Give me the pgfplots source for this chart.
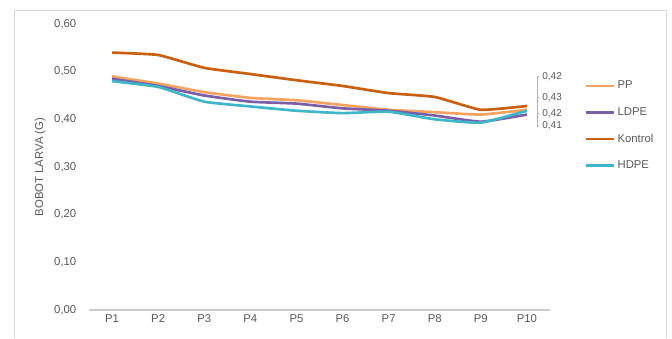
\documentclass[border=0pt]{standalone}
\usepackage{pgfplots}
\pgfplotsset{compat=1.18}
\usepackage{fontspec}
\setmainfont{Liberation Sans}
\definecolor{cPP}{HTML}{F4A460}
\definecolor{cLDPE}{HTML}{7A5FA6}
\definecolor{cKon}{HTML}{C8600F}
\definecolor{cHDPE}{HTML}{3FB6C9}
\definecolor{txt}{HTML}{595959}
\begin{document}
\begin{tikzpicture}[x=0.75pt,y=0.75pt]
\fill[white] (0,0) rectangle (672,338);
\draw[gray!30] (14,0) -- (14,328) -- (666,328) -- (666,0);
\begin{axis}[
  at={(89pt*0.75,28pt*0.75)}, anchor=origin,
  scale only axis, width=345.75pt, height=214.5pt,
  xmin=0.5, xmax=10.5, ymin=0, ymax=0.6,
  xtick={1,...,10},
  xticklabels={P1,P2,P3,P4,P5,P6,P7,P8,P9,P10},
  ytick={0,0.1,0.2,0.3,0.4,0.5,0.6},
  /pgf/number format/use comma,
  /pgf/number format/fixed,
  /pgf/number format/fixed zerofill,
  /pgf/number format/precision=2,
  /pgf/number format/assume math mode=true,
  axis x line*=bottom, axis y line*=left,
  x axis line style={gray!40, line width=0.8pt},
  y axis line style={draw=none},
  major tick length=0pt,
  yticklabel style={xshift=-6pt},
  tick label style={font=\fontsize{8.5}{10}\selectfont, text=txt},
  ylabel={BOBOT LARVA (G)},
  ylabel style={at={(axis description cs:-0.106,0.5)}, anchor=center, font=\fontsize{8.5}{10}\selectfont, text=txt},
  legend style={at={(axis description cs:1.065,0.82)}, anchor=north west, draw=none, fill=none,
     font=\fontsize{8.5}{10}\selectfont, text=txt, row sep=8.5pt, legend cell align=left},
  legend image code/.code={\draw[#1, line width=2pt] (0pt,0pt) -- (21pt,0pt);},
  every axis plot/.append style={line width=2pt, smooth, tension=0.25, no marks},
  clip=false,
]
\addplot[cPP] coordinates {(1,0.490) (2,0.475) (3,0.457) (4,0.445) (5,0.440) (6,0.430) (7,0.420) (8,0.415) (9,0.410) (10,0.420)};
\addlegendentry{PP}
\addplot[cLDPE] coordinates {(1,0.485) (2,0.470) (3,0.450) (4,0.437) (5,0.433) (6,0.423) (7,0.418) (8,0.408) (9,0.395) (10,0.410)};
\addlegendentry{LDPE}
\addplot[cKon] coordinates {(1,0.540) (2,0.535) (3,0.508) (4,0.495) (5,0.482) (6,0.470) (7,0.455) (8,0.447) (9,0.420) (10,0.428)};
\addlegendentry{Kontrol}
\addplot[cHDPE] coordinates {(1,0.480) (2,0.468) (3,0.437) (4,0.427) (5,0.418) (6,0.413) (7,0.416) (8,0.400) (9,0.393) (10,0.418)};
\addlegendentry{HDPE}
\draw[gray!60, line width=0.4pt] (axis cs:10.27,0.490) -- (axis cs:10.22,0.490) -- (axis cs:10.22,0.385) -- (axis cs:10.27,0.385);
\draw[gray!60, line width=0.4pt] (axis cs:10.22,0.446) -- (axis cs:10.27,0.446);
\draw[gray!60, line width=0.4pt] (axis cs:10.22,0.412) -- (axis cs:10.27,0.412);
\begin{scope}[every node/.style={font=\fontsize{7.5}{9}\selectfont, text=txt, anchor=west, inner sep=1pt}]
\node at (axis cs:10.30,0.490) {0,42};
\node at (axis cs:10.30,0.446) {0,43};
\node at (axis cs:10.30,0.412) {0,42};
\node at (axis cs:10.30,0.387) {0,41};
\end{scope}
\end{axis}
\end{tikzpicture}
\end{document}
